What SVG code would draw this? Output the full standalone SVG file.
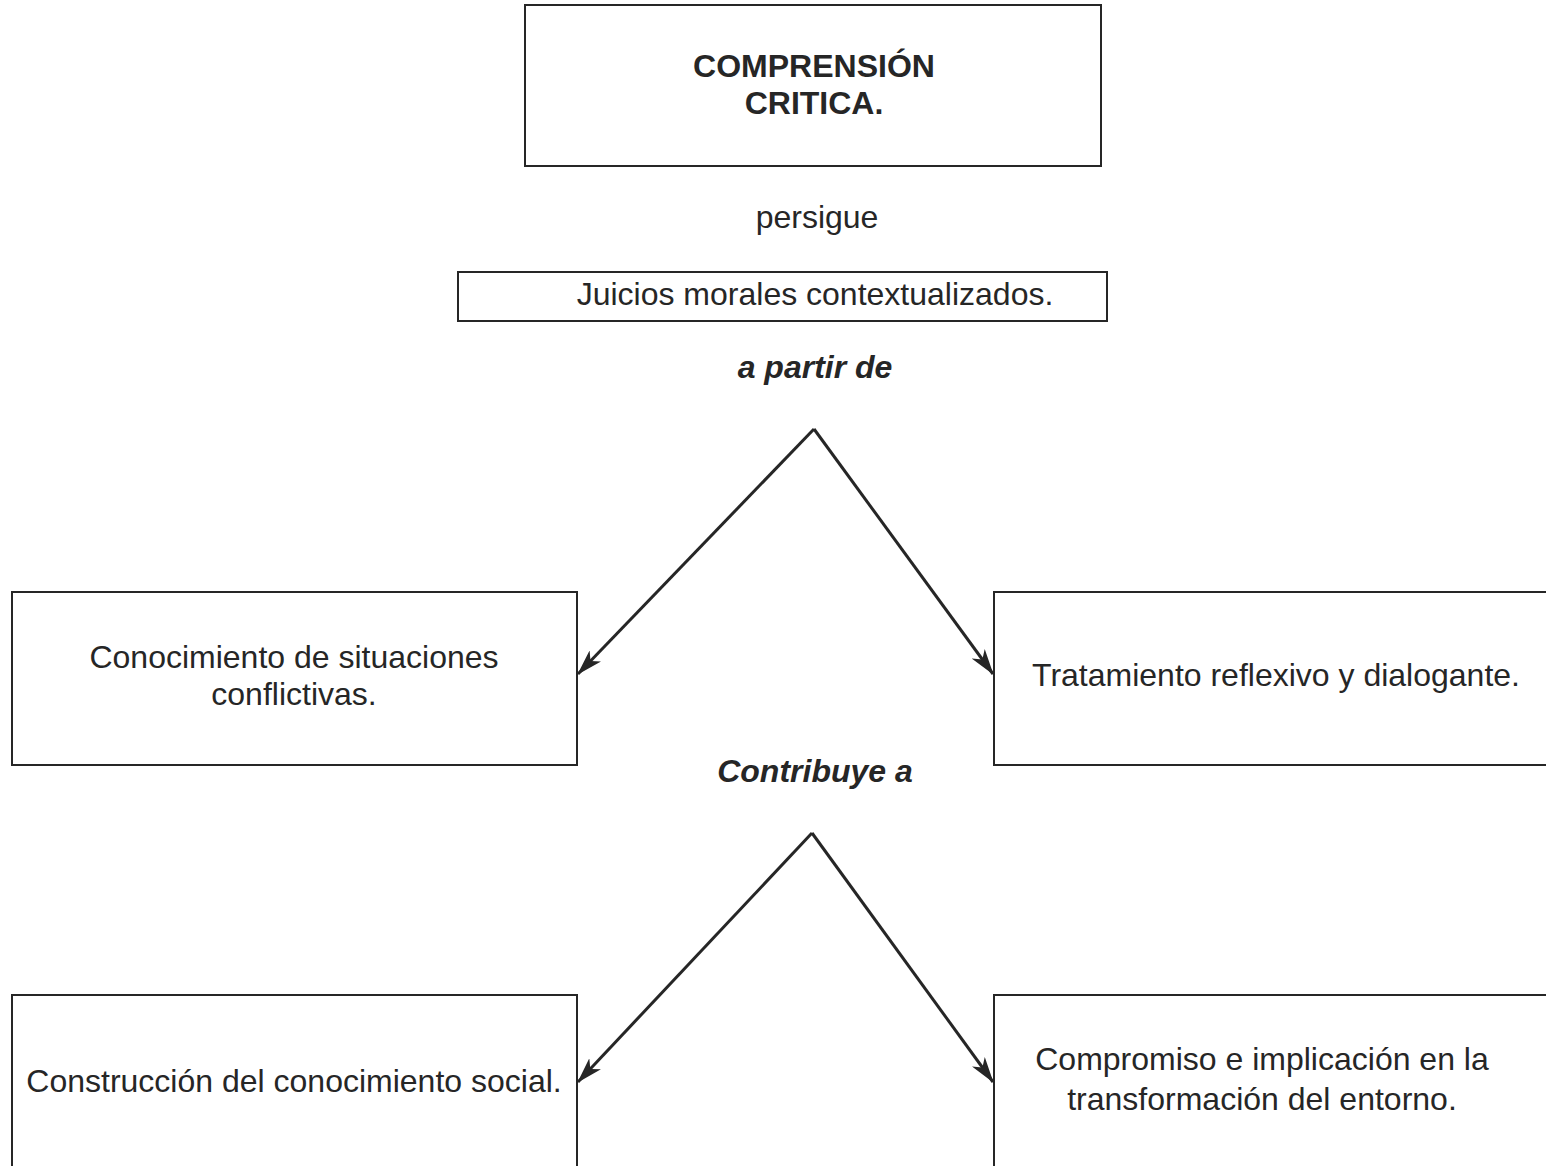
<svg xmlns="http://www.w3.org/2000/svg" width="1546" height="1166" viewBox="0 0 1546 1166">
<style>
.box{fill:none;stroke:#262626;stroke-width:2}
.t{font-family:"Liberation Sans",Arial,sans-serif;font-size:32px;fill:#262626;text-anchor:middle}
.b{font-weight:bold}
.bi{font-weight:bold;font-style:italic}
.c{fill:none;stroke:#262626;stroke-width:3}
</style>
<defs>
<marker id="ah" viewBox="0 0 26 16" refX="25" refY="8" markerWidth="26" markerHeight="16" markerUnits="userSpaceOnUse" orient="auto">
<path d="M0,0 L26,8 L0,16 L7,8 Z" fill="#262626"/>
</marker>
</defs>
<rect width="1546" height="1166" fill="#ffffff"/>
<g id="n-comprension">
<rect class="box" x="525" y="5" width="576" height="161"/>
<text class="t b" x="814" y="77">COMPRENSIÓN</text>
<text class="t b" x="814" y="114">CRITICA.</text>
</g>
<g id="l-persigue"><text class="t" x="817" y="228">persigue</text></g>
<g id="n-juicios">
<rect class="box" x="458" y="272" width="649" height="49"/>
<text class="t" x="815" y="305">Juicios morales contextualizados.</text>
</g>
<g id="l-apartir"><text class="t bi" x="815" y="378">a partir de</text></g>
<g id="n-conocimiento">
<rect class="box" x="12" y="592" width="565" height="173"/>
<text class="t" x="294" y="668">Conocimiento de situaciones</text>
<text class="t" x="294" y="705">conflictivas.</text>
</g>
<g id="n-tratamiento">
<rect class="box" x="994" y="592" width="560" height="173"/>
<text class="t" x="1276" y="686">Tratamiento reflexivo y dialogante.</text>
</g>
<g id="l-contribuye"><text class="t bi" x="815" y="782">Contribuye a</text></g>
<g id="n-construccion">
<rect class="box" x="12" y="995" width="565" height="180"/>
<text class="t" x="294" y="1092">Construcción del conocimiento social.</text>
</g>
<g id="n-compromiso">
<rect class="box" x="994" y="995" width="560" height="180"/>
<text class="t" x="1262" y="1070">Compromiso e implicación en la</text>
<text class="t" x="1262" y="1110">transformación del entorno.</text>
</g>
<g id="connectors">
<path class="c" d="M814,429 L578,674" marker-end="url(#ah)"/>
<path class="c" d="M814,429 L993,674" marker-end="url(#ah)"/>
<path class="c" d="M812,833 L578,1082" marker-end="url(#ah)"/>
<path class="c" d="M812,833 L993,1082" marker-end="url(#ah)"/>
</g>
</svg>
